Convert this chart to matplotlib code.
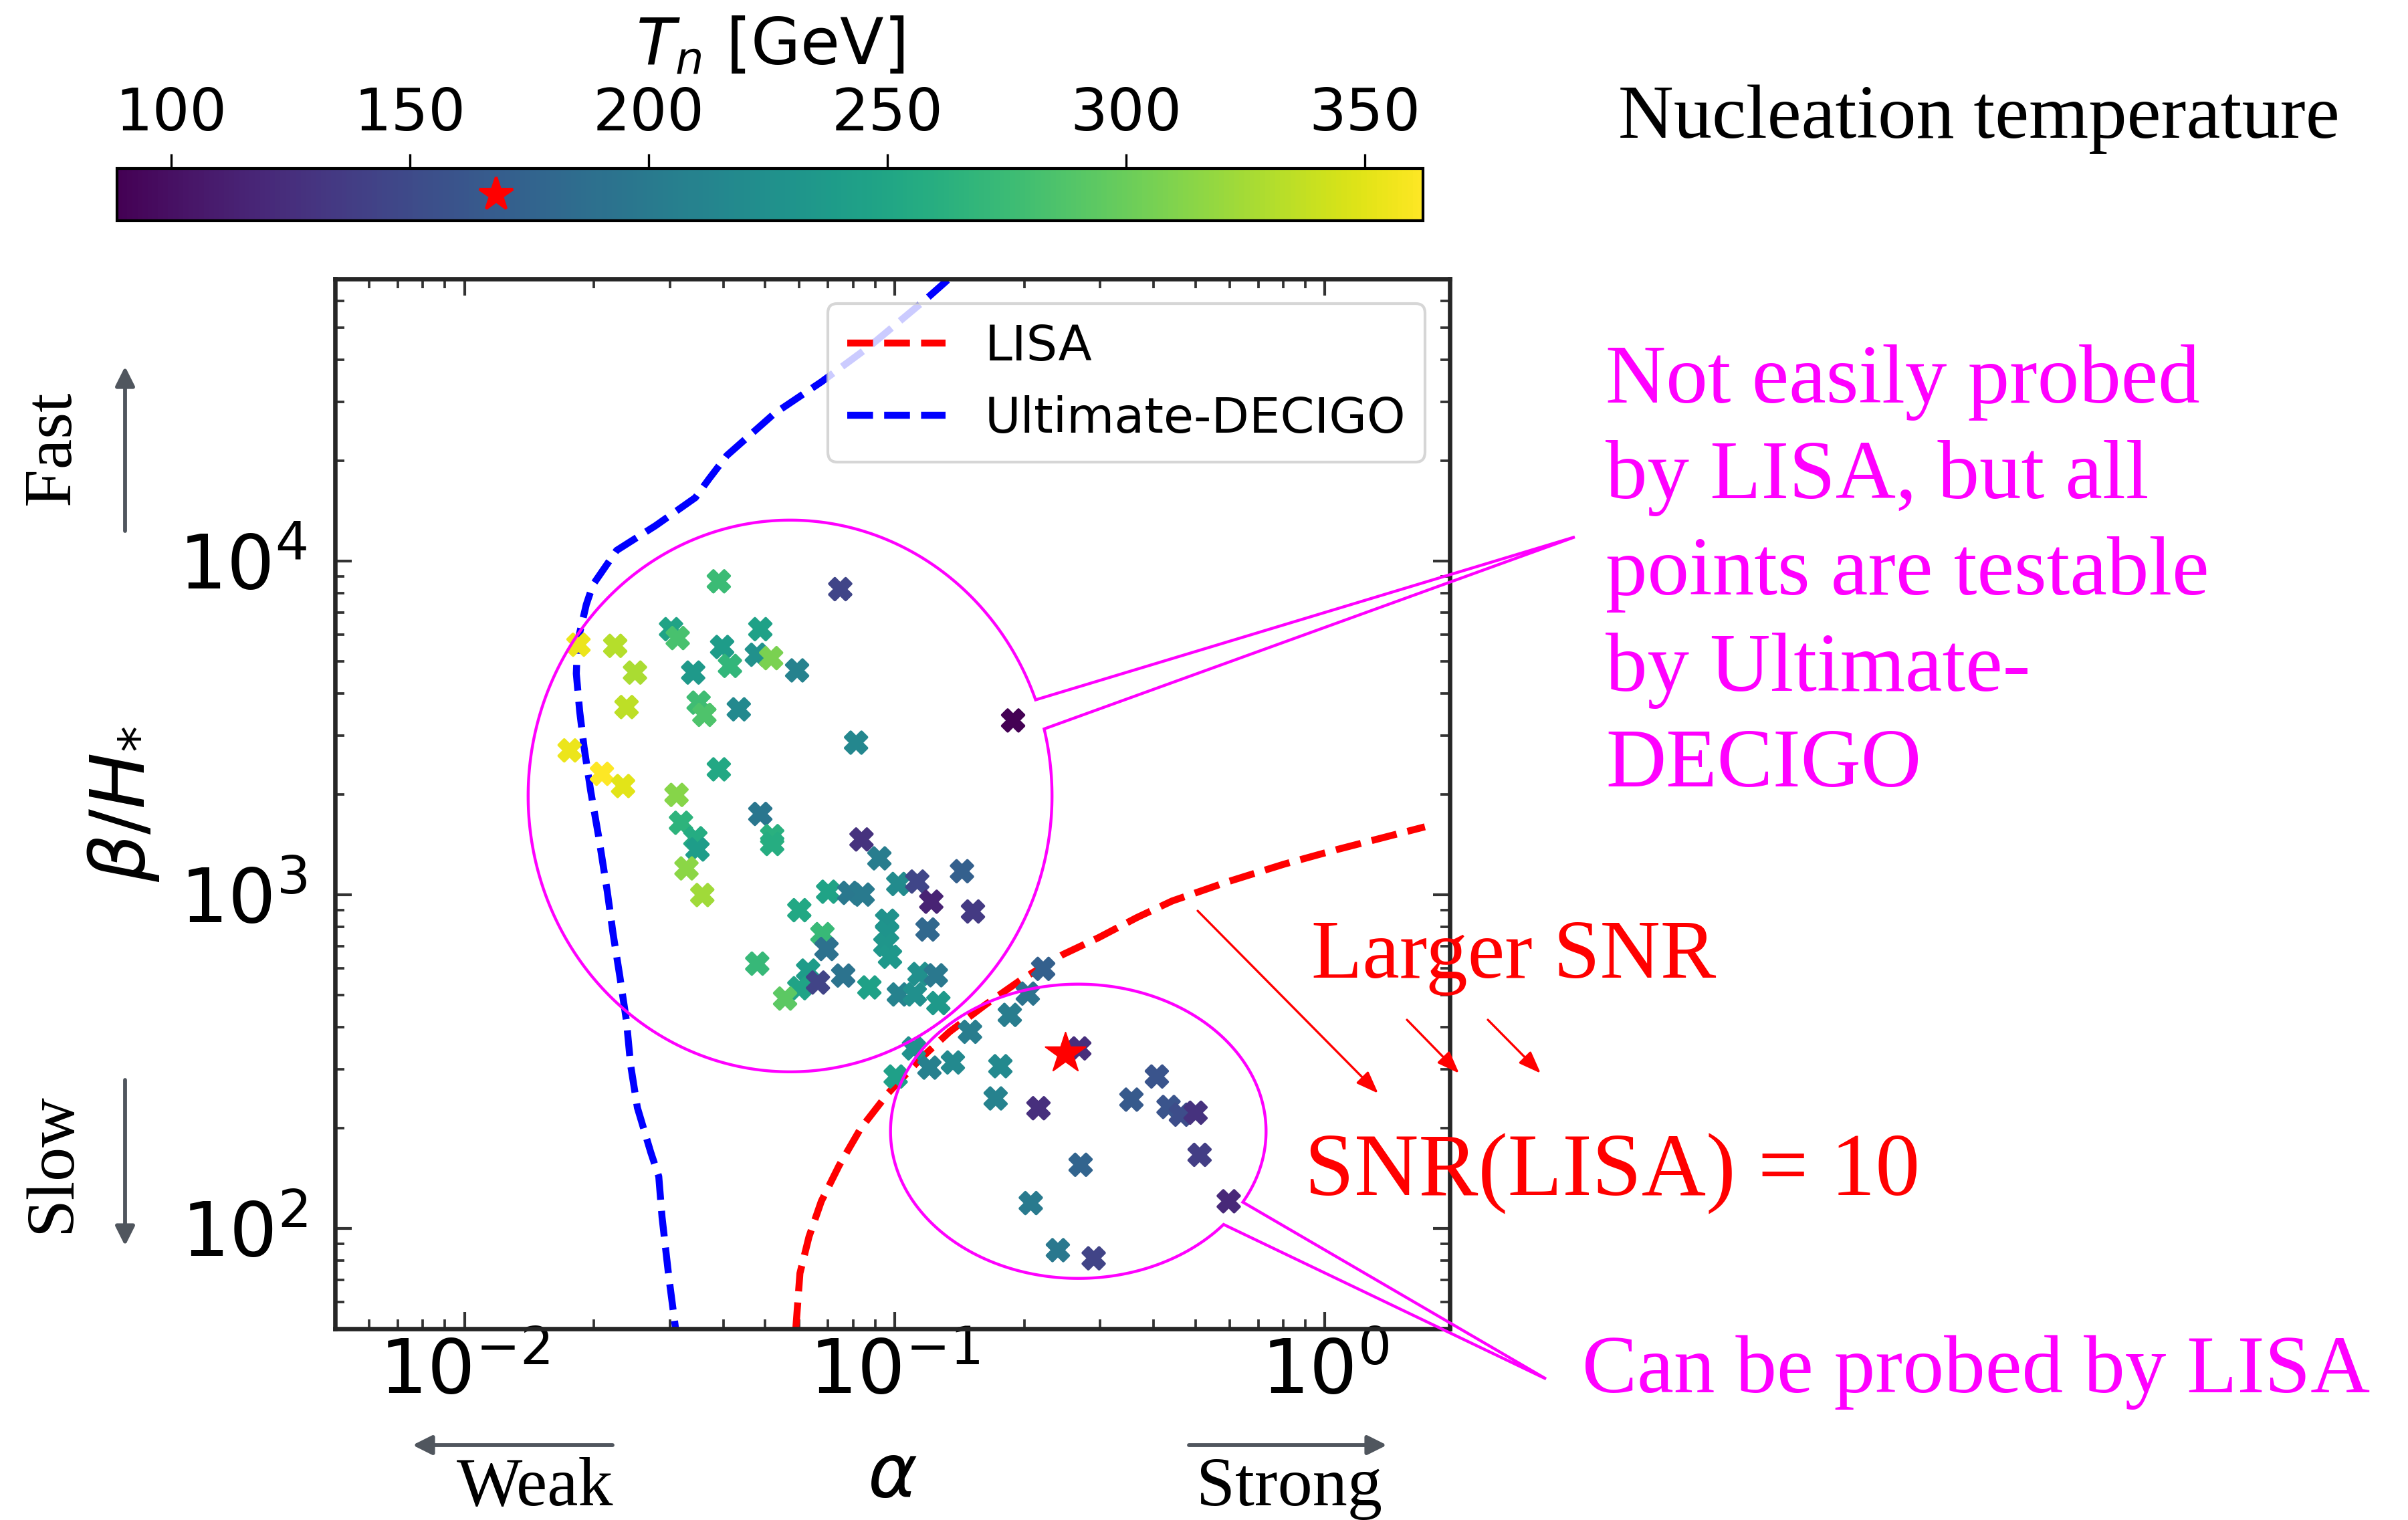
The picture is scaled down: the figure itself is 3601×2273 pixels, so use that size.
import numpy as np
import matplotlib
matplotlib.use("Agg")
import matplotlib.pyplot as plt
from matplotlib.patches import Polygon

# scan points: alpha, beta/H*, T_n [GeV]
alpha = [0.0390, 0.0747, 0.0302, 0.0313, 0.0487, 0.0184, 0.0224, 0.0397, 0.0478, 0.0516,
         0.0414, 0.0593, 0.0340, 0.0249, 0.0238, 0.0350, 0.0361, 0.0434, 0.0813, 0.1884,
         0.01755, 0.02086, 0.02336, 0.0390, 0.0311, 0.03185, 0.0344, 0.0348, 0.0487, 0.0519,
         0.0519, 0.0837, 0.0921, 0.0328, 0.0357, 0.0700, 0.0784, 0.0842, 0.1019, 0.1128,
         0.1216, 0.1433, 0.1520, 0.0600, 0.0960, 0.0960, 0.0951, 0.0975, 0.1192, 0.0679,
         0.0694, 0.0479, 0.0629, 0.0600, 0.0663, 0.0759, 0.0556, 0.0873, 0.1022, 0.1113,
         0.1142, 0.1246, 0.1263, 0.2213, 0.2038, 0.1851, 0.1496, 0.1108, 0.1204, 0.1365,
         0.1005, 0.1760, 0.1716, 0.2158, 0.2685, 0.4066, 0.3549, 0.4329, 0.4625, 0.5003,
         0.5112, 0.2704, 0.2071, 0.5974, 0.2394, 0.2900]
beta_H = [8685, 8229, 6243, 5871, 6243, 5607, 5564, 5521, 5232, 5113,
          4845, 4697, 4627, 4627, 3647, 3761, 3456, 3591, 2853, 3325,
          2704, 2301, 2115, 2373, 1989, 1641, 1475, 1365, 1745, 1497,
          1418, 1463, 1284, 1198, 997, 1020, 1012, 1000, 1076, 1094,
          952, 1175, 890, 898, 835, 769, 707, 651, 786, 761,
          687, 621, 592, 524, 545, 572, 488, 527, 502, 502,
          578, 573, 473, 599, 505, 436, 388, 346, 303, 314,
          285, 306, 245, 229, 346, 285, 243, 231, 219, 222,
          166, 155, 119, 120.5, 86, 81.3]
Tn = [275, 145, 247, 283, 245, 354, 332, 239, 226, 307,
      269, 209, 236, 327, 335, 277, 286, 217, 215, 89,
      354, 362, 350, 253, 312, 265, 257, 240, 196, 262,
      258, 128, 204, 315, 323, 247, 198, 200, 220, 146,
      115, 171, 135, 253, 228, 230, 232, 235, 180, 273,
      190, 272, 239, 247, 144, 193, 293, 245, 209, 225,
      225, 198, 236, 171, 193, 204, 204, 225, 207, 217,
      243, 217, 209, 125, 124, 160, 165, 160, 152, 128,
      138, 176, 200, 120, 198, 144]

# benchmark point
star_alpha = [0.249]
star_beta = [334]
star_Tn = [168]

# SNR(LISA) = 10 contour
lisa_alpha = [0.0589, 0.0602, 0.0632, 0.0675, 0.0743, 0.0833, 0.0965, 0.1150, 0.1341, 0.1622,
              0.1988, 0.2464, 0.2978, 0.3652, 0.4415, 0.5962, 0.8024, 1.068, 1.707]
lisa_beta = [50.2, 73.3, 94.4, 120.5, 154.5, 199, 254, 323, 388, 467,
             561, 662, 743, 853, 957, 1094, 1233, 1365, 1596]

# Ultimate-DECIGO contour
decigo_alpha = [0.1327, 0.1171, 0.0871, 0.0676, 0.0525, 0.0407, 0.0370, 0.0344, 0.0278, 0.02257,
                0.01989, 0.01919, 0.01830, 0.01819, 0.01852, 0.01896, 0.01965, 0.02049, 0.02147, 0.02215,
                0.02296, 0.02379, 0.02433, 0.02522, 0.02709, 0.02828, 0.02878, 0.02984, 0.03093]
decigo_beta = [69440, 60200, 43800, 34420, 27640, 20680, 17600, 15470, 12750, 10750,
               8488, 7403, 5692, 4591, 3542, 2766, 2039, 1497, 1021, 762,
               569, 418, 308, 230, 169, 143, 108, 71.6, 50.2]

cb_ticks = [100, 150, 200, 250, 300, 350]
t_min, t_max = 88.6, 362.2

W, H = 3601, 2273
DPI = 300
SERIF = 'Liberation Serif'
MAGENTA = '#ff00ff'
GREY = '#50565e'

fig = plt.figure(figsize=(W / DPI, H / DPI), dpi=DPI)

# main panel
ax = fig.add_axes([501 / W, 1 - 1987 / H, 1667 / W, 1570 / H])
ax.plot(lisa_alpha, lisa_beta, '--', color='red', lw=2.5, label='LISA')
ax.plot(decigo_alpha, decigo_beta, '--', color='blue', lw=2.5, label='Ultimate-DECIGO')
sc = ax.scatter(alpha, beta_H, c=Tn, cmap='viridis', vmin=t_min, vmax=t_max,
                marker='X', s=60, linewidths=1, zorder=3)
ax.scatter(star_alpha, star_beta, marker='*', s=230, color='red', linewidths=0.5, zorder=4)
ax.set_xscale('log')
ax.set_yscale('log')
ax.set_xlim(0.005, 1.95)
ax.set_ylim(50, 7e4)
ax.tick_params(which='both', direction='in', top=True, right=True, labelsize=27, color='#333333')
ax.tick_params(which='major', length=6, width=1.0)
ax.tick_params(which='minor', length=3.4, width=0.9)
ax.tick_params(axis='x', pad=3)
ax.tick_params(axis='y', pad=10)
for s in ax.spines.values():
    s.set_linewidth(1.6)
    s.set_color('#262626')
ax.set_xlabel(r'$\alpha$', fontsize=27)
ax.xaxis.set_label_coords(0.5, -0.106)
ax.set_ylabel(r'$\beta/H_{*}$', fontsize=27)
ax.yaxis.set_label_coords(-0.156, 0.5)
ax.legend(loc='upper right', fontsize=17.6, handlelength=2.0)

# colorbar on top
cax = fig.add_axes([175 / W, 1 - 330 / H, 1953 / W, 78 / H])
cb = fig.colorbar(sc, cax=cax, orientation='horizontal')
cb.set_ticks(cb_ticks)
cax.xaxis.set_ticks_position('top')
cax.xaxis.set_label_position('top')
cax.tick_params(labelsize=21, length=5.3, width=0.8, direction='out', pad=4)
cb.set_label(r'$T_n$ [GeV]', fontsize=23, labelpad=8)
cb.outline.set_linewidth(1.0)
cax.plot(star_Tn, [0.5], marker='*', color='red', ms=12.5, ls='none', clip_on=False)
cax.set_xlim(t_min, t_max)
cax.set_ylim(0, 1)

# annotation layer in pixel coordinates (y downwards)
ov = fig.add_axes([0, 0, 1, 1], zorder=10)
ov.set_xlim(0, W)
ov.set_ylim(H, 0)
ov.axis('off')
ov.patch.set_alpha(0)


def callout(cx, cy, rx, ry, a0, a1, tip):
    t = np.radians(np.linspace(a0, a1, 400))
    xs = np.r_[cx + rx * np.cos(t), tip[0]]
    ys = np.r_[cy - ry * np.sin(t), tip[1]]
    ov.add_patch(Polygon(np.column_stack([xs, ys]), closed=True, fill=False,
                         ec=MAGENTA, lw=1.05))


callout(1181.5, 1190.3, 391.7, 412.5, 20.4, 374.07, (2355, 803))
callout(1612.5, 1691.7, 280.8, 220.0, -28.8, 320.7, (2312, 2062))


def arrow(tail, tip, color, lw, ms, hl, hw):
    ov.annotate('', xy=tip, xytext=tail,
                arrowprops=dict(arrowstyle=f'-|>,head_length={hl},head_width={hw}',
                                color=color, lw=lw, mutation_scale=ms,
                                shrinkA=0, shrinkB=0))


# red SNR arrows
arrow((1791, 1362), (2061, 1635), 'red', 0.8, 15, 0.45, 0.17)
arrow((2104, 1525), (2182, 1605), 'red', 0.8, 15, 0.45, 0.17)
arrow((2225, 1525), (2304, 1605), 'red', 0.8, 15, 0.45, 0.17)

# direction hints
arrow((187, 794), (187, 548), GREY, 1.4, 14.5, 0.4, 0.2)
arrow((187, 1615), (187, 1863), GREY, 1.4, 14.5, 0.4, 0.2)
arrow((916, 2161), (617, 2161), GREY, 1.4, 14.5, 0.4, 0.2)
arrow((1778, 2161), (2074, 2161), GREY, 1.4, 14.5, 0.4, 0.2)

ov.text(80, 670, 'Fast', rotation=90, fontsize=24.5, family=SERIF, ha='center', va='center')
ov.text(80, 1739, 'Slow', rotation=90, fontsize=24.5, family=SERIF, ha='center', va='center')
ov.text(683, 2251, 'Weak', fontsize=25, family=SERIF, va='baseline')
ov.text(1789, 2251, 'Strong', fontsize=25, family=SERIF, va='baseline')

ov.text(2420, 206, 'Nucleation temperature', fontsize=27.5, family=SERIF, va='baseline')

note_lines = ['Not easily probed', 'by LISA, but all', 'points are testable',
              'by Ultimate-', 'DECIGO']
for i, line in enumerate(note_lines):
    ov.text(2401, 602 + 143.5 * i, line, fontsize=30, family=SERIF, color=MAGENTA,
            va='baseline')

ov.text(1961, 1462, 'Larger SNR', fontsize=30, family=SERIF, color='red', va='baseline')
ov.text(1951, 1788, 'SNR(LISA) = 10', fontsize=32, family=SERIF, color='red', va='baseline')
ov.text(2366, 2082, 'Can be probed by LISA', fontsize=29.6, family=SERIF, color=MAGENTA,
        va='baseline')

fig.savefig('out.png', dpi=DPI)
